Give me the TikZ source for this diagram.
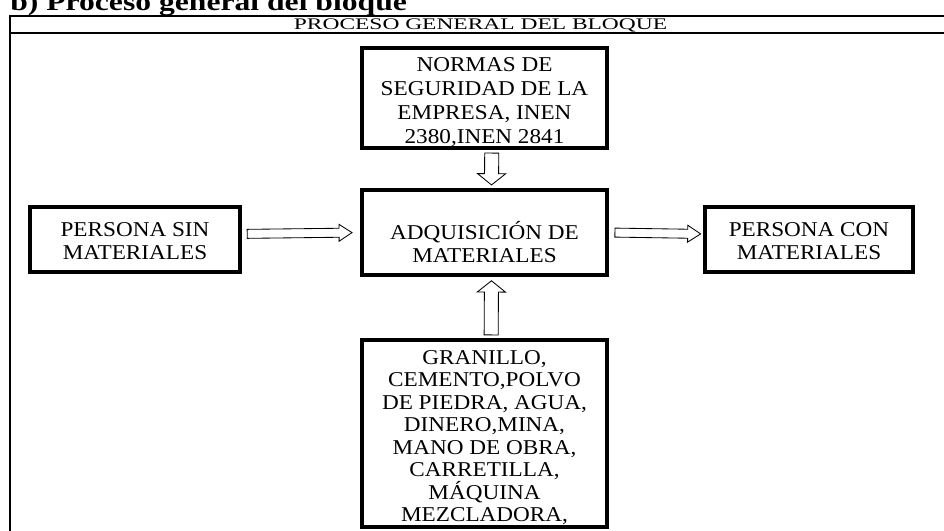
\documentclass[tikz,border=0pt]{standalone}
\usepackage{fontspec}
\setmainfont{Liberation Serif}
\newfontfamily\cajafont{Liberation Serif}[FakeStretch=1.1]
\newfontfamily\titulofont{Liberation Serif}[FakeStretch=1.45]
\newfontfamily\encabezadofont{Liberation Serif}[FakeStretch=1.25]
\usetikzlibrary{calc}
\newcommand{\arriba}[1]{\rule{0pt}{#1}}

\tikzset{
  caja/.style={draw, line width=2.2pt, align=center, inner sep=0pt,
    font=\cajafont\fontsize{15}{16}\selectfont},
  marco/.style={line width=1.4pt},
  ini/.store in=\flechaini, fin/.store in=\flechafin, ini=3pt, fin=3pt,
  hueca/.style n args={3}{draw, line width=0.6pt, to path={
    let \p1=($(\tikztotarget)-(\tikztostart)$), \n1={atan2(\y1,\x1)},
      \n2={veclen(\x1,\y1)-\flechaini-\flechafin} in
    ($(\tikztostart)+(\n1:\flechaini)+(\n1+90:#1)$) -- ++(\n1:\n2-#3) -- ++(\n1+90:#2-#1)
    -- ($(\tikztostart)+(\n1:\flechaini+\n2)$)
    -- ($(\tikztostart)+(\n1:\flechaini+\n2-#3)+(\n1-90:#2)$) -- ++(\n1+90:#2-#1)
    -- ($(\tikztostart)+(\n1:\flechaini)+(\n1-90:#1)$) -- cycle}},
  flechah/.style={hueca={3.2pt}{6pt}{9.2pt}},
  flechav/.style={hueca={5pt}{10pt}{8pt}},
}

\begin{document}
\begin{tikzpicture}[x=0.025cm, y=-0.025cm]
    \clip (0,0) rectangle (944,531);
    \node[anchor=base west, inner sep=0pt, font=\encabezadofont\bfseries\fontsize{18}{20}\selectfont] (encabezado) at (10,11) {b) Proceso general del bloque};
    \draw[marco] (10,560) |- (960,16);
    \draw[marco] (10,33) -- (960,33);
    \node[anchor=base, inner sep=0pt, font=\titulofont\fontsize{11.5}{13}\selectfont] (titulo) at (480.5,30) {PROCESO GENERAL DEL BLOQUE};
    \node[caja, minimum width=61.25mm, minimum height=25mm, font=\cajafont\fontsize{15}{17}\selectfont] (normas) at (484.5,98) {\arriba{15.6pt}NORMAS DE\\SEGURIDAD DE LA\\EMPRESA, INEN\\2380,INEN 2841};
    \node[caja, minimum width=61.25mm, minimum height=21.25mm] (adquisicion) at (484.5,232.5) {\arriba{26.6pt}ADQUISICIÓN DE\\MATERIALES};
    \node[caja, minimum width=52.5mm, minimum height=16.25mm] (personasin) at (135,239.5) {\arriba{12.4pt}PERSONA SIN\\MATERIALES};
    \node[caja, minimum width=52mm, minimum height=16.25mm] (personacon) at (809,239.5) {\arriba{12.4pt}PERSONA CON\\MATERIALES};
    \node[caja, minimum width=61.25mm, minimum height=46.75mm] (insumos) at (484.5,433.5) {\arriba{16pt}GRANILLO,\\CEMENTO,POLVO\\DE PIEDRA, AGUA,\\DINERO,MINA,\\MANO DE OBRA,\\CARRETILLA,\\MÁQUINA\\MEZCLADORA,};
    \draw[flechah, ini=4pt, fin=6pt] (personasin.3) to (adquisicion.west);
    \draw[flechah, ini=4.5pt, fin=2pt] (adquisicion.east) to (personacon.177);
    \draw[flechav, ini=2.5pt, fin=2.5pt] (normas.278) to (adquisicion.81);
    \draw[flechav, ini=2.5pt, fin=3pt] (insumos.86) to (adquisicion.279);
\end{tikzpicture}
\end{document}
